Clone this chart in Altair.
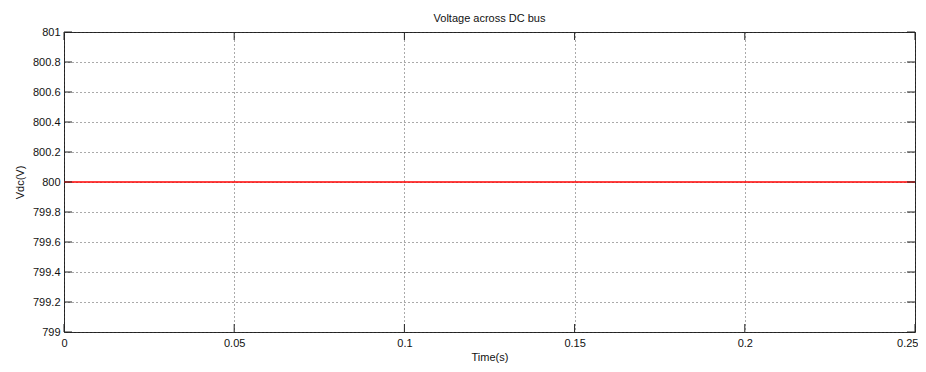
import altair as alt
import pandas as pd

time_s = [0.0, 0.05, 0.1, 0.15, 0.2, 0.25]
vdc = [800.0, 800.0, 800.0, 800.0, 800.0, 800.0]
x_ticks = [0, 0.05, 0.1, 0.15, 0.2, 0.25]
y_ticks = [799, 799.2, 799.4, 799.6, 799.8, 800, 800.2, 800.4, 800.6, 800.8, 801]

W, H = 851, 300
TL = 8
FONT = "Liberation Sans"

df = pd.DataFrame({"t": time_s, "v": vdc})
xt = pd.DataFrame({"t": x_ticks})
yt = pd.DataFrame({"v": y_ticks})

xscale = alt.Scale(domain=[0, 0.25], nice=False, zero=False)
yscale = alt.Scale(domain=[799, 801], nice=False, zero=False)

xaxis = alt.Axis(values=x_ticks, format="~g", title="Time(s)", grid=True,
                 gridDash=[1, 3], gridColor="#444", gridOpacity=0.9,
                 ticks=False, domain=False, labelPadding=5, titlePadding=3,
                 labelOverlap=False, labelBound=False,
                 labelAlign=alt.condition("datum.value >= 0.25", alt.value("right"), alt.value("center")),
                 labelOffset=alt.condition("datum.value >= 0.25", alt.value(3), alt.value(0)),
                 labelFont=FONT, titleFont=FONT, labelFontSize=11, titleFontSize=11,
                 titleFontWeight="normal", labelColor="#111", titleColor="#111")
yaxis = alt.Axis(values=y_ticks, format="~g", title="Vdc(V)", grid=True,
                 gridDash=[1, 3], gridColor="#444", gridOpacity=0.9,
                 ticks=False, domain=False, labelPadding=4, titlePadding=7,
                 labelOverlap=False, labelBound=False,
                 labelFont=FONT, titleFont=FONT, labelFontSize=11, titleFontSize=11,
                 titleFontWeight="normal", labelColor="#111", titleColor="#111")

line = alt.Chart(df).mark_line(color="#ff0000", strokeWidth=1.4).encode(
    x=alt.X("t:Q", scale=xscale, axis=xaxis),
    y=alt.Y("v:Q", scale=yscale, axis=yaxis),
)

tick_style = dict(color="#222", strokeWidth=1)
xb = alt.Chart(xt).mark_rule(**tick_style).encode(
    x=alt.X("t:Q", scale=xscale, axis=xaxis), y=alt.value(H), y2=alt.value(H - TL))
xtop = alt.Chart(xt).mark_rule(**tick_style).encode(
    x=alt.X("t:Q", scale=xscale, axis=xaxis), y=alt.value(0), y2=alt.value(TL))
yl = alt.Chart(yt).mark_rule(**tick_style).encode(
    y=alt.Y("v:Q", scale=yscale, axis=yaxis), x=alt.value(0), x2=alt.value(TL))
yr = alt.Chart(yt).mark_rule(**tick_style).encode(
    y=alt.Y("v:Q", scale=yscale, axis=yaxis), x=alt.value(W), x2=alt.value(W - TL))

chart = alt.layer(line, xb, xtop, yl, yr).properties(
    width=W, height=H,
    background="white",
    title=alt.TitleParams("Voltage across DC bus", font=FONT, fontSize=11,
                          fontWeight="normal", color="#111", frame="group",
                          anchor="middle", offset=2),
    autosize=alt.AutoSizeParams(type="none"),
    padding={"left": 56, "top": 24, "right": 3, "bottom": 31},
).configure_view(stroke="#222", strokeWidth=1)

chart.save("out.html", embed_options={"renderer": "svg", "actions": False})
